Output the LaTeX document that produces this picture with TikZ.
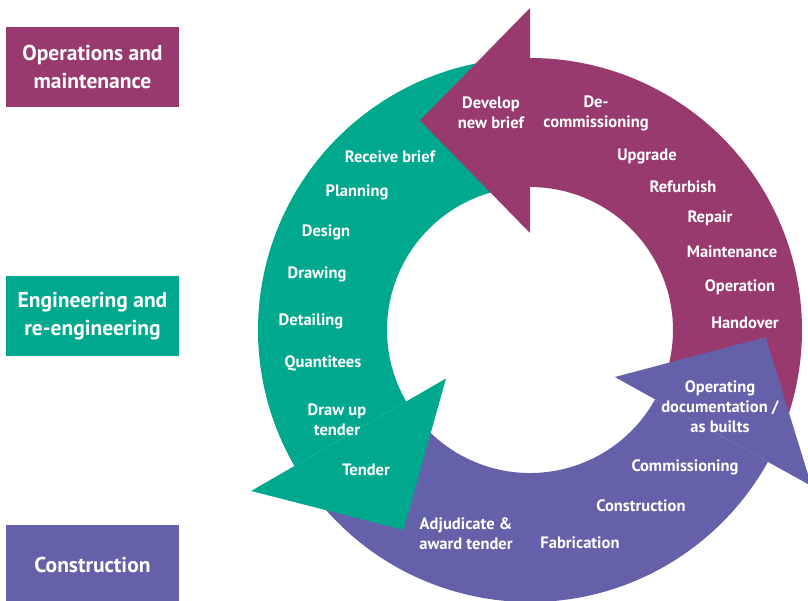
\documentclass[tikz,border=0pt]{standalone}
\usepackage{fontspec}
\setmainfont{PT Sans}
\usepackage{xcolor}
\usetikzlibrary{calc}

\definecolor{opsmag}{HTML}{983A6E}
\definecolor{enggreen}{HTML}{00A88E}
\definecolor{conpurple}{HTML}{6460AA}

\tikzset{
  steplabel/.style={text=white, font=\bfseries\fontsize{16.5}{20}\selectfont, align=center, inner sep=0pt},
  phasebox/.style={text=white, font=\bfseries\fontsize{21.5}{28}\selectfont, align=center,
    minimum width=173pt, minimum height=80pt, inner sep=0pt}
}

\begin{document}
\begin{tikzpicture}[x=1pt,y=1pt]

\clip (-530,-270) rectangle (278,330);

% Ring bands (inner radius 143, outer radius 272)
\fill[opsmag] (-20:272) arc[start angle=-20, end angle=90, radius=272]
  -- (90:143) arc[start angle=90, end angle=-20, radius=143] -- cycle;
\fill[enggreen] (100:272) arc[start angle=100, end angle=210, radius=272]
  -- (210:143) arc[start angle=210, end angle=100, radius=143] -- cycle;
\fill[conpurple] (215:272) arc[start angle=215, end angle=331, radius=272]
  -- (331:143) arc[start angle=331, end angle=215, radius=143] -- cycle;

% Arrow heads
\fill[opsmag] (90:97) -- (90:322) -- ($(90:209.5)+(180:110)$) -- cycle;
\fill[enggreen] (210:97) -- (210:322) -- ($(210:209.5)+(300:110)$) -- cycle;
\fill[conpurple] (331:97) -- (331:322) -- ($(331:209.5)+(61:108)$) -- cycle;

% Operations and maintenance steps
\node[steplabel] (devbrief) at (-39,217) {Develop\\new brief};
\node[steplabel] (decom) at (66,217) {De-\\commissioning};
\node[steplabel] (upgrade) at (117,174) {Upgrade};
\node[steplabel] (refurb) at (153,143) {Refurbish};
\node[steplabel] (repair) at (180,112) {Repair};
\node[steplabel] (maint) at (202,78) {Maintenance};
\node[steplabel] (operation) at (210,43) {Operation};
\node[steplabel] (handover) at (215,7) {Handover};

% Construction steps
\node[steplabel] (opdocs) at (190,-77) {Operating\\documentation /\\as builts};
\node[steplabel] (commiss) at (155,-137) {Commissioning};
\node[steplabel] (construct) at (111,-176) {Construction};
\node[steplabel] (fabric) at (50,-213) {Fabrication};
\node[steplabel] (adjud) at (-64,-204) {Adjudicate \&\\award tender};

% Engineering steps
\node[steplabel] (tender) at (-164,-140) {Tender};
\node[steplabel] (drawup) at (-193,-90) {Draw up\\tender};
\node[steplabel] (quant) at (-207,-33) {Quantitees};
\node[steplabel] (detail) at (-219,9) {Detailing};
\node[steplabel] (drawing) at (-213,56) {Drawing};
\node[steplabel] (design) at (-204,98) {Design};
\node[steplabel] (planning) at (-173,138) {Planning};
\node[steplabel] (receive) at (-140,173) {Receive brief};

% Phase boxes
\node[phasebox, fill=opsmag] (opsbox) at (-437.5,263) {Operations and\\maintenance};
\node[phasebox, fill=enggreen] (engbox) at (-437.5,14) {Engineering and\\re-engineering};
\node[phasebox, fill=conpurple] (conbox) at (-437.5,-235) {Construction};

\end{tikzpicture}
\end{document}
